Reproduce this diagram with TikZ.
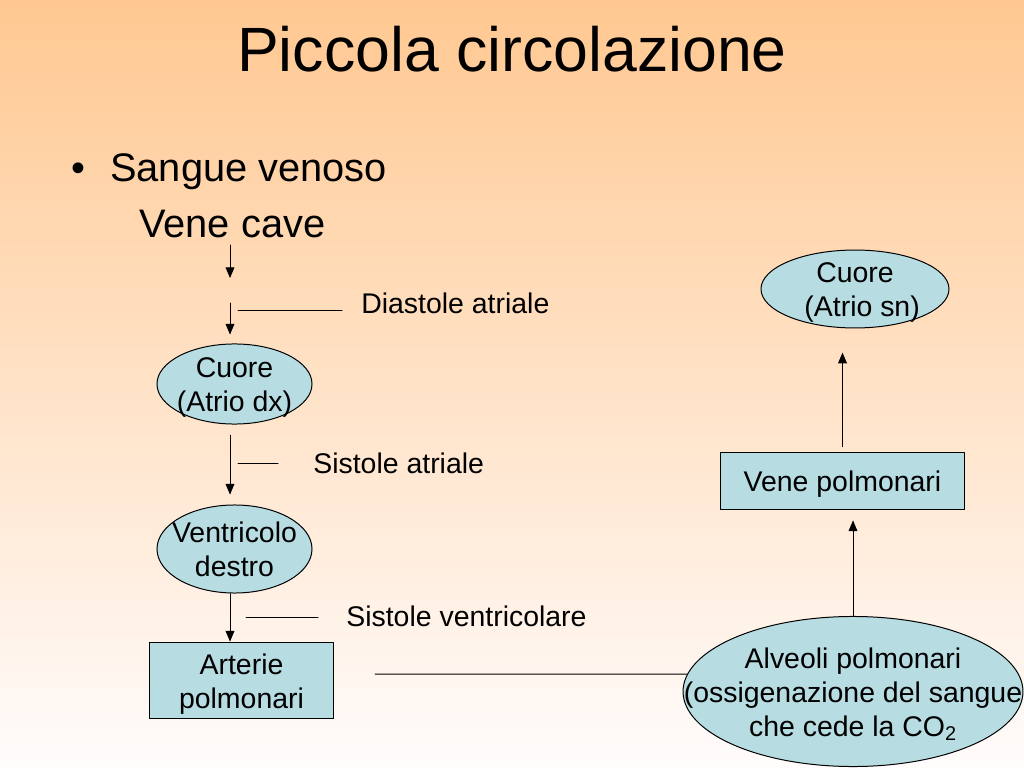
\documentclass[tikz,border=0pt]{standalone}
\usepackage{fontspec}
\setmainfont{Liberation Sans}
\usepackage{tikz}
\usetikzlibrary{calc}
\usetikzlibrary{arrows}
\usetikzlibrary{shapes.geometric}
\definecolor{ffc891}{rgb}{1.,0.7843137254901961,0.5686274509803921}
\definecolor{fffcfc}{rgb}{1.,0.9882352941176471,0.9882352941176471}
\definecolor{b7dde3}{rgb}{0.7176470588235294,0.8666666666666667,0.8901960784313725}
\newcommand{\bolltext}[1]{\makebox[0pt]{\raisebox{-8pt}[0pt][0pt]{\begin{tabular}{@{}c@{}}#1\end{tabular}}}}
\tikzstyle{every node}=[font=\fontsize{20}{24}\selectfont]
\tikzstyle{organo}=[ellipse,draw,fill=b7dde3,line width=0.7pt,inner sep=0pt]
\tikzstyle{vaso}=[rectangle,draw,fill=b7dde3,line width=0.7pt,inner sep=0pt]
\tikzstyle{fase}=[inner sep=0pt,anchor=base west]
\begin{document}
\begin{tikzpicture}[line cap=round,line join=round,>=triangle 45,x=0.703125pt,y=-0.703125pt]
            \useasboundingbox (0,0) rectangle (1024,768);
            \shade[top color=ffc891,bottom color=fffcfc] (0,0) rectangle (1024,768);
            \node[anchor=base,font=\fontsize{44}{53}\selectfont] (titolo) at (512,72) {Piccola circolazione};
            \node[anchor=base,font=\fontsize{28}{34}\selectfont] (punto) at (78,182) {\textbullet};
            \node[fase,font=\fontsize{28}{34}\selectfont] (sangue) at (110,182) {Sangue venoso};
            \node[fase,font=\fontsize{28}{34}\selectfont] (venecave) at (139,238) {Vene cave};
            % colonna destra del cuore
            \node[organo,minimum width=109pt,minimum height=56.3pt] (atriodx) at (234.5,384) {\bolltext{Cuore\\(Atrio dx)}};
            \node[organo,minimum width=109pt,minimum height=61.9pt] (ventricolo) at (234.5,549) {\bolltext{Ventricolo\\destro}};
            \node[vaso,minimum width=130pt,minimum height=54.1pt] (arterie) at (241.5,680.5) {\bolltext{Arterie\\polmonari}};
            % colonna di sinistra del cuore
            \node[organo,minimum width=239pt,minimum height=105.5pt] (alveoli) at (853,691.5) {\bolltext{Alveoli polmonari\\(ossigenazione del sangue\\che cede la CO\textsubscript{2}}};
            \node[vaso,minimum width=170.9pt,minimum height=39.4pt] (venepolm) at (842.5,481) {\bolltext{Vene polmonari}};
            \node[organo,minimum width=132.2pt,minimum height=54.8pt] (atriosn) at (855,289) {\bolltext{Cuore\\\hspace*{0.5em}(Atrio sn)}};
            % fasi
            \node[fase] (diastole) at (361,313) {Diastole atriale};
            \node[fase] (sistatr) at (313,473) {Sistole atriale};
            \node[fase] (sistvent) at (346,626) {Sistole ventricolare};
            \coordinate (c0) at (230,245);
            \coordinate (c1) at (230,278);
            \coordinate (c2) at (230,303);
            \coordinate (cl) at (375,674);
            \draw [->,line width=0.7pt] (c0) -- (c1);
            \draw [->,line width=0.7pt,shorten >=6.3pt] (c2) -- (atriodx.north -| c2);
            \draw [->,line width=0.7pt,shorten <=7.7pt,shorten >=7pt] (atriodx.south -| c2) -- (ventricolo.north -| c2);
            \draw [->,line width=0.7pt] (ventricolo.south -| c2) -- (arterie.north -| c2);
            \draw [line width=0.7pt] (diastole.west) ++(-19,8) -- ++(-104,0);
            \draw [line width=0.7pt] (sistatr.west) ++(-35,1) -- ++(-40,0);
            \draw [line width=0.7pt] (sistvent.west) ++(-28,2) -- ++(-72,0);
            \draw [line width=0.7pt] (cl) -- (alveoli.174);
            \draw [->,line width=0.7pt,shorten >=7.7pt] (alveoli.north) -- (venepolm.south -| alveoli.north);
            \draw [->,line width=0.7pt,shorten <=4.2pt,shorten >=17pt] (venepolm.north) -- (atriosn.south -| venepolm.north);
\end{tikzpicture}
\end{document}
